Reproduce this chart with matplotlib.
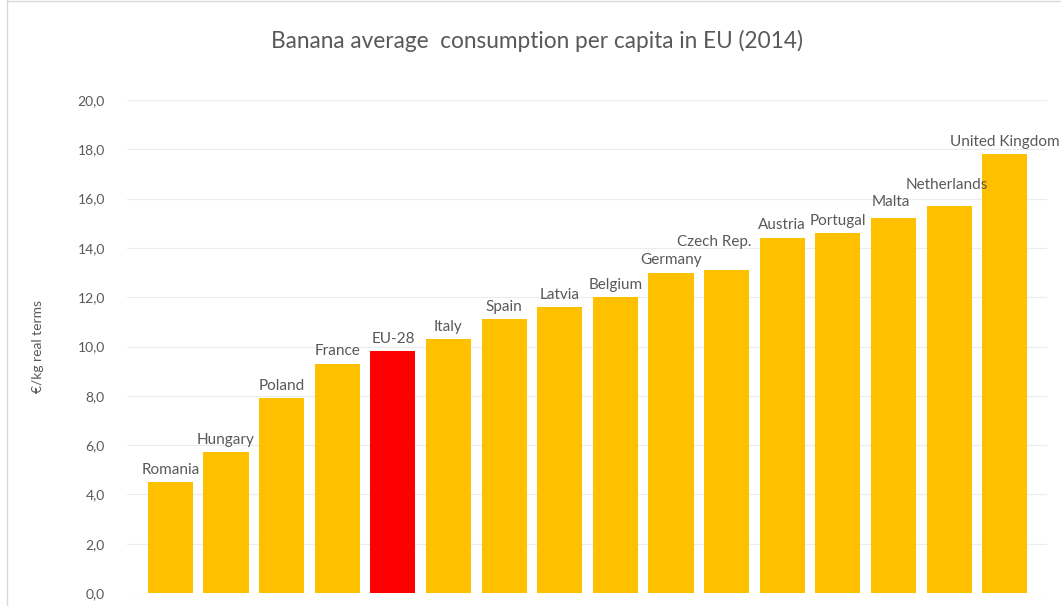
import matplotlib
matplotlib.use('Agg')
import matplotlib.pyplot as plt

# Banana consumption per capita, EU 2014
countries = ['Romania', 'Hungary', 'Poland', 'France', 'EU-28', 'Italy', 'Spain',
             'Latvia', 'Belgium', 'Germany', 'Czech Rep.', 'Austria', 'Portugal',
             'Malta', 'Netherlands', 'United Kingdom']
values = [4.5, 5.7, 7.9, 9.3, 9.8, 10.3, 11.1, 11.6, 12.0, 13.0, 13.1, 14.4,
          14.6, 15.2, 15.7, 17.8]
highlight = 'EU-28'
y_ticks = [0, 2, 4, 6, 8, 10, 12, 14, 16, 18, 20]

# labels that were nudged by hand in the original (points)
label_nudge = {'Czech Rep.': (-9, 11), 'Netherlands': (-2, 6), 'Malta': (-2, 3)}

plt.rcParams['font.family'] = ['Lato', 'DejaVu Sans']

fig = plt.figure(figsize=(10.61, 6.06), dpi=100)
ax = fig.add_axes([127 / 1061, 13 / 606, (1047 - 127) / 1061, (593 - 100) / 606])

colors = ['#FF0000' if c == highlight else '#FFC000' for c in countries]
x = list(range(len(countries)))
bars = ax.bar(x, values, width=0.81, color=colors, zorder=2)

# country names above each bar
for xi, v, name in zip(x, values, countries):
    dx, dy = label_nudge.get(name, (0, 0))
    ax.annotate(name, (xi, v), xytext=(dx, 4 + dy), textcoords='offset points',
                ha='center', va='bottom', fontsize=11, color='#595959')

ax.set_xlim(-0.78, len(countries) - 0.24)
ax.set_ylim(0, 20)
ax.set_yticks(y_ticks)
ax.set_yticklabels([f'{t:.1f}'.replace('.', ',') for t in y_ticks],
                   fontsize=10, color='#595959')
ax.tick_params(axis='y', length=0, pad=16)
ax.set_xticks([])
ax.grid(axis='y', color='#ECECEC', linewidth=0.8, zorder=0)
for s in ax.spines.values():
    s.set_visible(False)

ax.set_ylabel('€/kg real terms', fontsize=10, color='#595959', labelpad=24)

fig.text(0.506, 0.932, 'Banana average  consumption per capita in EU (2014)',
         ha='center', va='center', fontsize=16.3, color='#595959')

# faint chart frame on the left/top
fig.add_artist(plt.Line2D([7 / 1061, 7 / 1061], [0, 1], color='#D9D9D9', lw=1))
fig.add_artist(plt.Line2D([7 / 1061, 1], [1 - 1 / 606, 1 - 1 / 606], color='#D9D9D9', lw=1))

fig.savefig('out.png', dpi=100)
